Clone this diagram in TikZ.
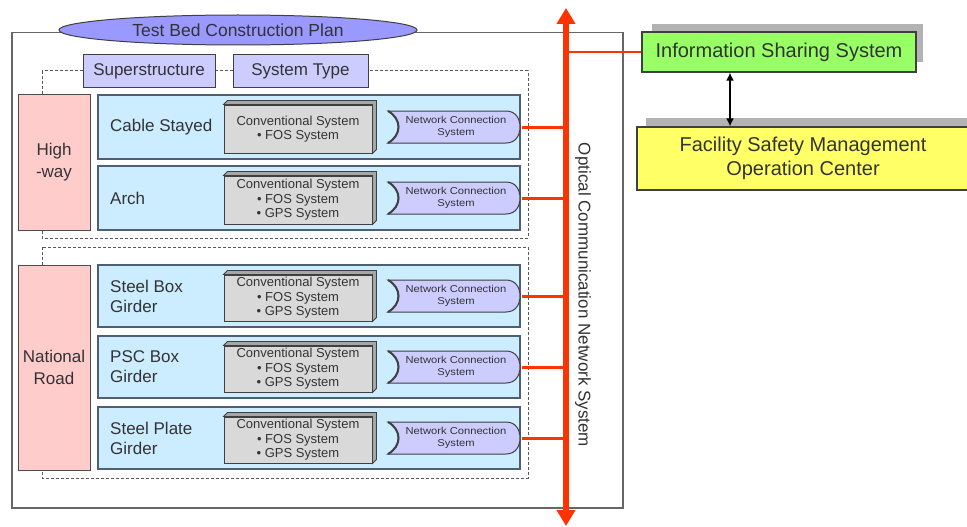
\documentclass[tikz,border=0pt]{standalone}
\usepackage{fontspec}
\setmainfont{Liberation Sans}
\newfontfamily\widesans[FakeStretch=1.12]{Liberation Sans}
\usetikzlibrary{arrows.meta,shapes.geometric}
\definecolor{txt}{HTML}{333333}
\definecolor{redl}{HTML}{FF3300}
\definecolor{ellfill}{HTML}{9999FF}
\definecolor{lav}{HTML}{CCCCFF}
\definecolor{pinkf}{HTML}{FFCCCC}
\definecolor{bluef}{HTML}{CCECFF}
\definecolor{grayf}{HTML}{D9D9D9}
\definecolor{grays}{HTML}{A6A6A6}
\definecolor{greenf}{HTML}{99FF66}
\definecolor{yellowf}{HTML}{FFFF66}
\definecolor{shadowc}{HTML}{B3B3B3}
\definecolor{edge}{HTML}{404040}
\definecolor{rowedge}{HTML}{4D5F70}
\tikzset{
 base/.style={text=txt, inner sep=0pt, align=center},
 framebox/.style={draw=gray!80!black, line width=1.5},
 titleell/.style={base, ellipse, draw=edge, fill=ellfill, line width=1, minimum width=358, minimum height=30, font=\fontsize{17.5}{20}\selectfont},
 headbox/.style={base, draw=edge, fill=lav, line width=1, minimum height=33, font=\fontsize{17}{20}\selectfont},
 regionbox/.style={draw=gray!70!black, dash pattern=on 3pt off 2pt, line width=1},
 roadbox/.style={base, draw=gray!60!black, fill=pinkf, line width=1, minimum width=72, font=\fontsize{17}{22}\selectfont},
 rowbox/.style={draw=rowedge, fill=bluef, line width=1.2, minimum width=422},
 rowlabel/.style={base, align=left, anchor=west, font=\fontsize{17}{20}\selectfont},
 sysbox/.style={base, draw=edge, fill=grayf, line width=1, minimum width=148, font=\fontsize{13}{14.5}\selectfont},
 sysside/.style={draw=edge, fill=grays, line width=0.8},
 netshape/.style={draw=edge, fill=lav, line width=1},
 netleft/.style={draw=edge, line width=2},
 nettext/.style={base, minimum width=132, minimum height=32, font=\widesans\fontsize{10}{12}\selectfont},
 bus/.style={draw=redl, line width=6, {Triangle[width=18pt,length=16pt]}-{Triangle[width=18pt,length=16pt]}},
 branch/.style={draw=redl, line width=3},
 infolink/.style={draw=redl, line width=2},
 shadowbox/.style={fill=shadowc},
 infobox/.style={base, draw=edge, fill=greenf, line width=1.2, minimum width=274, minimum height=40, font=\fontsize{20}{24}\selectfont},
 facbox/.style={base, draw=edge, fill=yellowf, line width=1.2, minimum width=332, minimum height=63, font=\fontsize{20}{24}\selectfont},
 blkarrow/.style={draw=black, line width=2.5, {Latex[length=8pt,width=8pt]}-{Latex[length=8pt,width=8pt]}},
 vtext/.style={base, rotate=-90, font=\fontsize{17}{20}\selectfont},
}
\begin{document}
\begin{tikzpicture}[x=1pt,y=-1pt]
\useasboundingbox (0,0) rectangle (967,527);
\fill[white] (0,0) rectangle (967,527);

% bus end points
\coordinate (bustop) at (566,8);
\coordinate (busbot) at (566,526);
\coordinate (ax) at (730,0);

% main frame
\node[framebox, minimum width=611, minimum height=475, anchor=north west, inner sep=0pt] (frame) at (11,32) {};
\node[titleell] (title) at (238,30) {Test Bed Construction Plan};

% dashed regions
\draw[regionbox] (42,71) rectangle (528,238);
\draw[regionbox] (42,247) rectangle (528,478);

% column heads
\node[headbox, minimum width=132] (hsuper) at (149,71.5) {Superstructure};
\node[headbox, minimum width=135] (htype) at (300.5,71.5) {System Type};

% road categories
\node[roadbox, minimum height=135] (highway) at (54,162.5) {High\\-way};
\node[roadbox, minimum height=205] (national) at (54,367.5) {National\\Road};

% rows
\foreach \i/\t/\b/\lab/\sys in {
 1/95/159/{Cable Stayed}/{Conventional System\\• FOS System},
 2/166/230/{Arch}/{Conventional System\\• FOS System\\• GPS System},
 3/265/327/{Steel Box\\Girder}/{Conventional System\\• FOS System\\• GPS System},
 4/336/398/{PSC Box\\Girder}/{Conventional System\\• FOS System\\• GPS System},
 5/407/469/{Steel Plate\\Girder}/{Conventional System\\• FOS System\\• GPS System}}
{
 \pgfmathsetmacro{\c}{(\t+\b)/2}
 \pgfmathsetmacro{\h}{\b-\t}
 \pgfmathsetmacro{\sc}{(\t+10+\b-6)/2}
 \pgfmathsetmacro{\sh}{\b-\t-16}
 \node[rowbox, minimum height=\h] (row\i) at (309,\c) {};
 \node[rowlabel] (lab\i) at (110,\c) {\lab};
 \node[sysbox, minimum height=\sh] (sys\i) at (298,\sc) {\sys};
 \filldraw[sysside] (sys\i.north west) -- ([shift={(4,-4)}]sys\i.north west)
   -- ([shift={(4,-4)}]sys\i.north east) -- ([shift={(4,-4)}]sys\i.south east)
   -- (sys\i.south east) -- (sys\i.north east) -- cycle;
 \filldraw[netshape] (388,\c-16) -- (506,\c-16) .. controls (516,\c-16) and (520,\c-8) .. (520,\c)
   .. controls (520,\c+8) and (516,\c+16) .. (506,\c+16) -- (388,\c+16)
   .. controls (402,\c+8) and (402,\c-8) .. (388,\c-16) -- cycle;
 \draw[netleft] (388,\c+16) .. controls (402,\c+8) and (402,\c-8) .. (388,\c-16);
 \node[nettext] (net\i) at (456,\c) {Network Connection\\System};
 \draw[branch] (net\i.east) -- (net\i.east -| bustop);
}

% right side systems
\fill[shadowbox] (652,24) rectangle (923,62);
\node[infobox] (info) at (779,52) {Information Sharing System};
\fill[shadowbox] (646,118) rectangle (978,181);
\node[facbox] (fac) at (803,158.5) {Facility Safety Management\\Operation Center};
\draw[infolink] (info.west -| bustop) -- (info.west);
\draw[blkarrow] (info.south -| ax) -- (fac.north -| ax);

% optical bus
\draw[bus] (busbot) -- (bustop);
\node[vtext] (ocn) at (583,295) {Optical Communication Network System};
\end{tikzpicture}
\end{document}
